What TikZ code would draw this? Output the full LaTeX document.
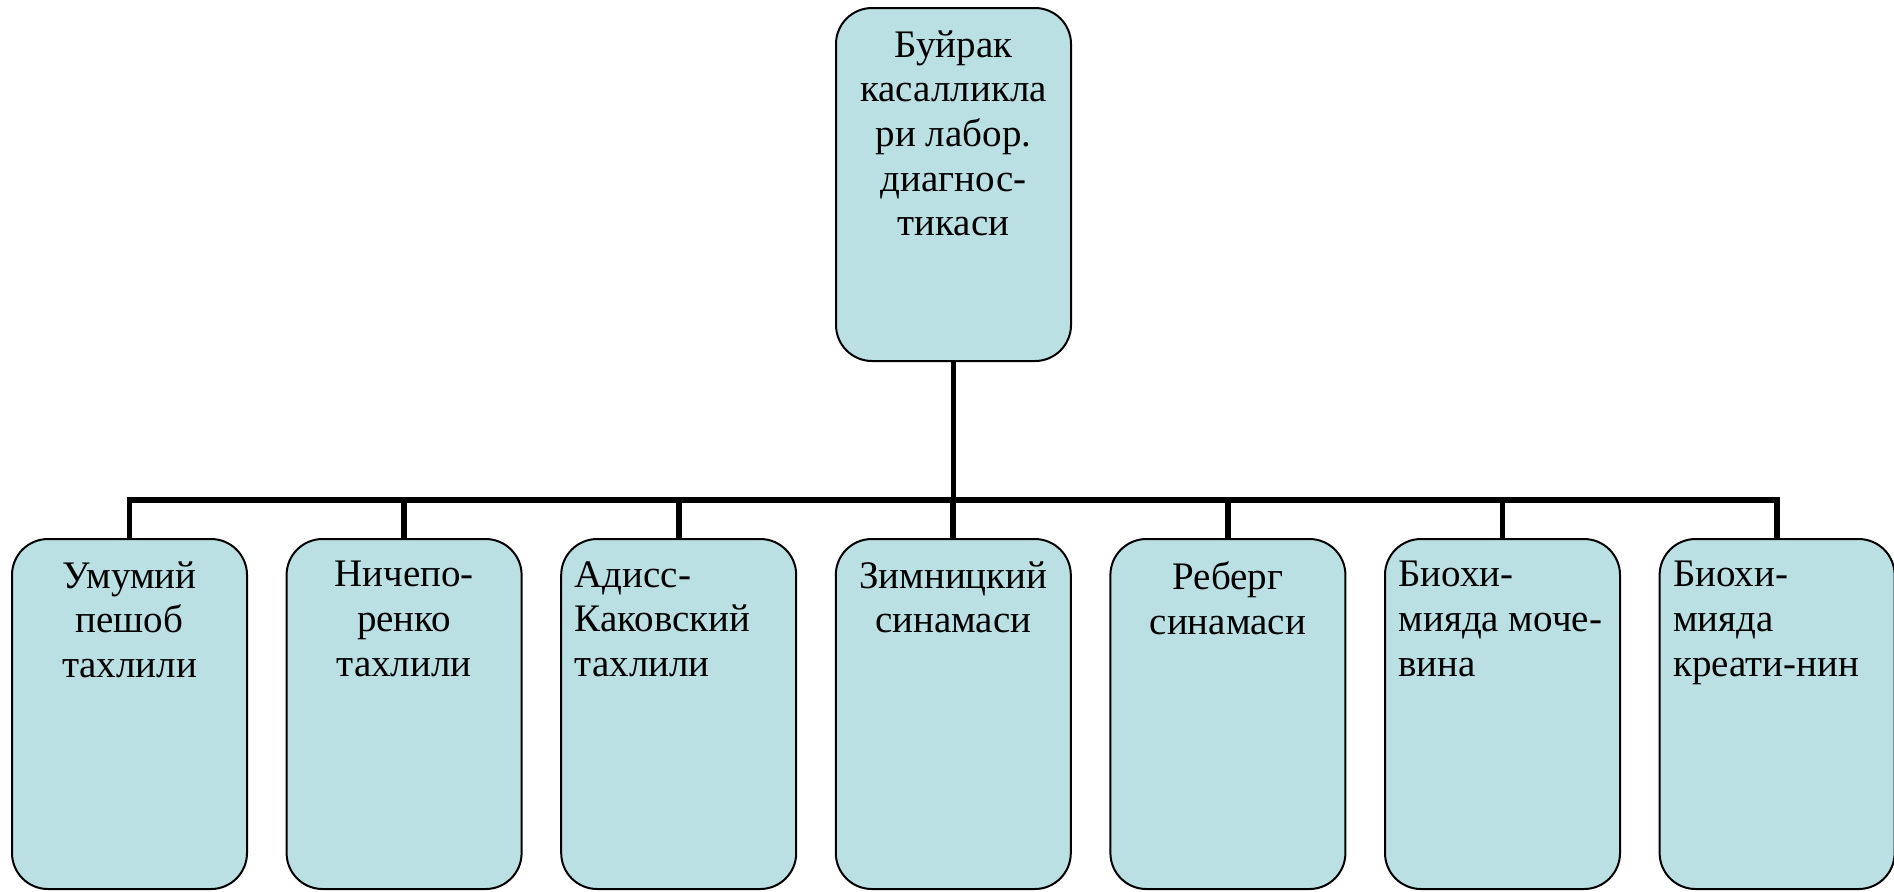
\documentclass[tikz,border=0pt]{standalone}
\usepackage{fontspec}
\setmainfont{Liberation Serif}
\usetikzlibrary{positioning}
\definecolor{boxfill}{HTML}{BBE0E3}

\begin{document}
\begin{tikzpicture}[x=0.5pt, y=0.5pt, node distance={19.8pt},
    font=\fontsize{19.5}{22.35}\selectfont,
    box/.style = {draw, line width=1pt, fill=boxfill, rounded corners=18pt, outer sep=0pt, minimum width=117.5pt, minimum height=175pt},
    head/.style = {box, minimum height=176.5pt},
    lbl/.style = {inner sep=0pt, text width=104pt},
    conn/.style = {line width=2.9pt}]
    \useasboundingbox (0,0) rectangle (1894,-891);
    \node[head] (top) at (953.5,-184.5) {};
    \node[box] (b1) at (129.5,-714) {};
    \node[box] (b2) [right=of b1] {};
    \node[box] (b3) [right=of b2] {};
    \node[box] (b4) [right=of b3] {};
    \node[box] (b5) [right=of b4] {};
    \node[box] (b6) [right=of b5] {};
    \node[box] (b7) [right=of b6] {};
    \coordinate (hub) at (953.5,-500);
    \node[lbl, align=flush center] (t0) [below=11pt of top.north] {Буйрак\\касалликла\\ри лабор.\\диагнос-\\тикаси};
    \node[lbl, align=flush center] (t1) [below=11pt of b1.north] {Умумий\\пешоб\\тахлили};
    \node[lbl, align=flush center] (t2) [below=11pt of b2.north] {Ничепо-\\ренко\\тахлили};
    \node[lbl, align=flush left] (t3) [below=11pt of b3.north] {Адисс-\\Каковский\\тахлили};
    \node[lbl, align=flush center] (t4) [below=11pt of b4.north] {Зимницкий\\синамаси};
    \node[lbl, align=flush center] (t5) [below=11pt of b5.north] {Реберг\\синамаси};
    \node[lbl, align=flush left] (t6) [below=11pt of b6.north] {Биохи-\\мияда моче-\\вина};
    \node[lbl, align=flush left] (t7) [below=11pt of b7.north] {Биохи-\\мияда\\креати-нин};
    \draw[conn] (top.south) -- (hub);
    \draw[conn] (b1.north) |- (hub) -| (b7.north);
    \foreach \i in {2,...,6}
        \draw[conn] (b\i.north) -- (b\i.north |- hub);
\end{tikzpicture}
\end{document}
